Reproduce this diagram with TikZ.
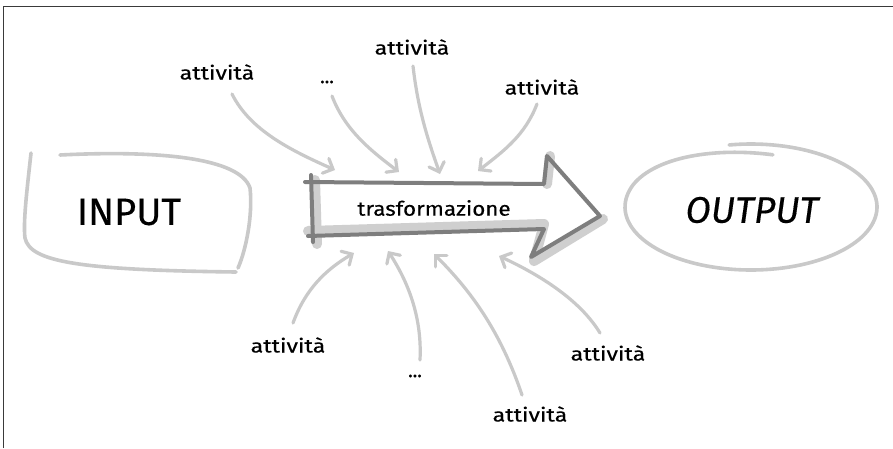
\documentclass[tikz,border=0pt]{standalone}
\usepackage{fontspec}
\usepackage{graphicx}
\setmainfont{Fira Sans}
\newfontfamily\handfont{Fira Sans}[FakeBold=0.3]
\usetikzlibrary{arrows.meta}
\definecolor{sketch}{HTML}{C9C9C9}
\definecolor{bigdark}{HTML}{7E7E7E}
\definecolor{bigsoft}{HTML}{CFCFCF}
\definecolor{frame}{HTML}{3A3A3A}
\newcommand{\act}{\scalebox{1.22}[1]{attività}}
\begin{document}
\begin{tikzpicture}[x=1pt,y=-1pt,
  lbl/.style={font=\handfont\fontsize{19}{19}\selectfont, text=black, inner sep=0pt},
  big/.style={font=\handfont\fontsize{38}{38}\selectfont, text=black, inner sep=0pt},
  outline/.style={draw=sketch, line width=3.6pt, line cap=round, line join=round},
  actarrow/.style={draw=sketch, line width=3.2pt, line cap=round,
     -{Straight Barb[length=8pt,width=16pt,line cap=round]}},
  bigsh/.style={draw=bigsoft, line width=10pt, line cap=round, line join=round},
  bigln/.style={draw=bigdark, line width=4pt, line cap=round, line join=round}]
\useasboundingbox (0,0) rectangle (893,448);
\fill[white] (0,0) rectangle (893,448);
% frame
\draw[frame, line width=1.6pt] (3.5,448) -- (3.5,6.5) -- (893,6.5);

% INPUT box
\draw[outline] (60,155) .. controls (160,150) and (240,158) .. (250,188)
   .. controls (253,215) and (246,250) .. (238,268);
\draw[outline] (31,153) .. controls (27,190) and (23,222) .. (25,238)
   .. controls (30,262) and (80,270) .. (236,272);
\node[big] (in) at (129,212) {INPUT};

% OUTPUT ellipse
\draw[outline] plot[domain=0:380, samples=140, smooth]
  ({751+126*cos(100-\x)}, {207-(63-10*max(0,(\x-300)/80))*sin(100-\x)});
\node[big, font=\handfont\fontsize{37}{37}\selectfont\itshape] (out) at (752,210) {OUTPUT};

% big transformation arrow
\coordinate (bA) at (305,182);
\coordinate (bB) at (544,184);
\coordinate (bC) at (547,156);
\coordinate (bD) at (600,216);
\coordinate (bE) at (531,257);
\coordinate (bF) at (544,229);
\coordinate (bG) at (308,236);
\fill[white] (bA) -- (bB) -- (bC) -- (bD) -- (bE) -- (bF) -- (bG) -- cycle;
\draw[bigsh] ([yshift=5pt]bG) -- ([yshift=5pt]bF) -- ([shift={(3,4)}]bE) -- ([shift={(3,3)}]bD);
\draw[bigsh] ([xshift=3pt]bB) -- ([xshift=3pt]bC);
\draw[bigsh] (315,180) -- (317,244);
\draw[bigln] (bA) -- (bB) -- (bC) -- (bD) -- (bE) -- (bF) -- (bG);
\draw[bigln] (311,175) -- (313,242);
\node[lbl, font=\handfont\fontsize{20}{20}\selectfont] (tr) at (434,208) {\scalebox{1.12}[1]{trasformazione}};

% activity labels
\node[lbl] (a1) at (217,72) {\act};
\node[lbl] (d1) at (327,82) {...};
\node[lbl] (a2) at (412,47) {\act};
\node[lbl] (a3) at (542,87) {\act};
\node[lbl] (a4) at (288,345) {\act};
\node[lbl] (d2) at (415,376) {...};
\node[lbl] (a5) at (530,414) {\act};
\node[lbl] (a6) at (608,353) {\act};

% arrow end points
\coordinate (s1) at (232,94);  \coordinate (t1) at (335,170);
\coordinate (s2) at (332,96);  \coordinate (t2) at (399,172);
\coordinate (s3) at (413,66);  \coordinate (t3) at (440,174);
\coordinate (s4) at (537,104); \coordinate (t4) at (478,171);
\coordinate (s5) at (293,323); \coordinate (t5) at (354,253);
\coordinate (s6) at (420,360); \coordinate (t6) at (388,251);
\coordinate (s7) at (522,395); \coordinate (t7) at (434,254);
\coordinate (s8) at (600,333); \coordinate (t8) at (499,256);

\draw[actarrow] (s1) .. controls (250,130) and (290,150) .. (t1);
\draw[actarrow] (s2) .. controls (345,130) and (370,150) .. (t2);
\draw[actarrow] (s3) .. controls (418,110) and (428,140) .. (t3);
\draw[actarrow] (s4) .. controls (525,135) and (505,150) .. (t4);
\draw[actarrow] (s5) .. controls (305,290) and (325,270) .. (t5);
\draw[actarrow] (s6) .. controls (422,320) and (410,285) .. (t6);
\draw[actarrow] (s7) .. controls (500,330) and (470,290) .. (t7);
\draw[actarrow] (s8) .. controls (580,300) and (540,275) .. (t8);
\end{tikzpicture}
\end{document}
